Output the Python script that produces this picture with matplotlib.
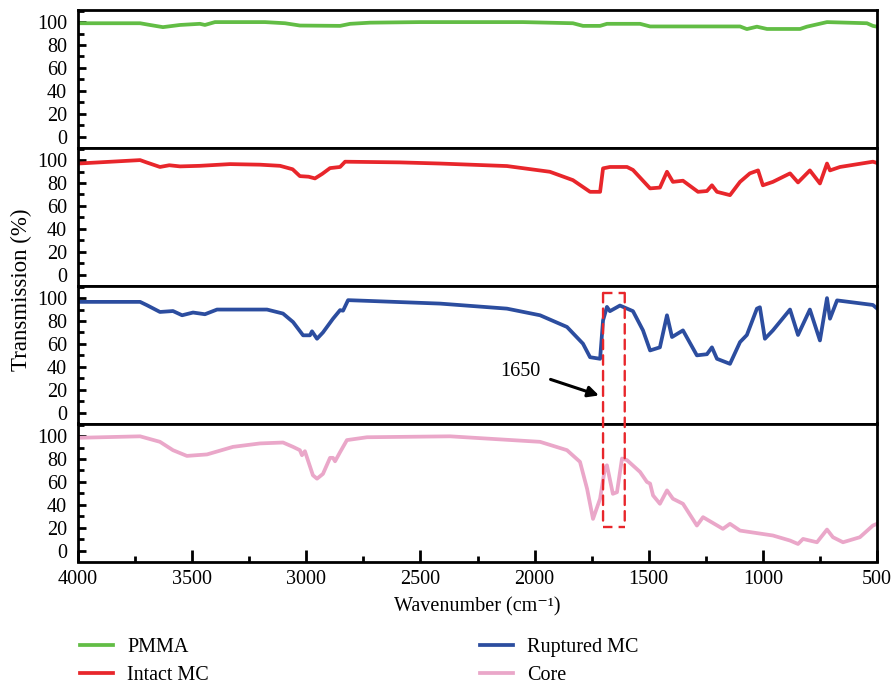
import matplotlib
matplotlib.use("Agg")
import matplotlib.pyplot as plt
from matplotlib.patches import ConnectionPatch
from matplotlib.ticker import MultipleLocator

plt.rcParams['font.family'] = ['Liberation Serif', 'DejaVu Serif']

# ---------------- data ----------------
pmma_wn = [4000, 3728, 3685, 3628, 3553, 3466, 3444, 3400, 3181, 3093, 3028, 2852, 2808, 2721, 2502,
           2051, 1832, 1788, 1713, 1683, 1538, 1494, 1100, 1070, 1026, 982, 837, 807, 719, 544, 518, 500]
pmma_t = [99, 99, 97.5, 95.6, 97.5, 98.5, 97.5, 100, 100, 99, 97, 96.7, 98.5, 99.5, 100,
          100, 99, 96.7, 96.7, 98.5, 98.5, 96.2, 96.2, 93.9, 96, 94, 94, 96, 100, 99, 96.7, 96]

intact_wn = [4000, 3728, 3700, 3641, 3600, 3553, 3466, 3334, 3203, 3115, 3060, 3028, 2990, 2962, 2930,
             2896, 2852, 2830, 2590, 2414, 2121, 1933, 1832, 1757, 1713, 1700, 1670, 1595, 1569, 1494,
             1451, 1420, 1394, 1350, 1284, 1245, 1223, 1201, 1144, 1100, 1057, 1021, 1000, 956, 881,
             846, 794, 750, 719, 706, 662, 518, 500]
intact_t = [97, 100, 98, 94, 95.5, 94.5, 95, 96.5, 96, 95, 92, 86, 85.5, 84, 88,
            93, 94, 98.6, 98, 97, 94.8, 89.8, 82.5, 72.3, 72.3, 92.8, 94, 94, 91.4, 75.3,
            76, 89.8, 81, 82, 72.3, 73, 78, 72.3, 69.4, 81, 88.4, 91, 78, 81, 88.4,
            80.5, 91, 79.6, 97, 91, 94, 98.6, 97.5]

ruptured_wn = [4000, 3728, 3698, 3641, 3584, 3544, 3496, 3444, 3391, 3172, 3102, 3058, 3014, 2984,
               2975, 2953, 2927, 2883, 2852, 2839, 2817, 2734, 2414, 2121, 1976, 1858, 1788, 1757,
               1713, 1700, 1683, 1670, 1626, 1569, 1525, 1494, 1451, 1420, 1398, 1350, 1289, 1245,
               1223, 1201, 1144, 1100, 1070, 1026, 1013, 991, 956, 881, 846, 794, 750, 719, 706,
               675, 518, 500]
ruptured_t = [96.7, 96.7, 93.8, 87.9, 88.7, 85, 87.4, 85.9, 90, 90, 86.5, 79.1, 67.5, 67.5,
              71, 64.5, 70, 82, 89.5, 89, 98.2, 97.6, 95.2, 90.8, 85, 74.8, 60.2, 48.4,
              47, 80.6, 92.3, 88.6, 93.5, 88.6, 71.8, 54.3, 57, 85, 66, 71.8, 50, 51,
              57, 47, 42.6, 61.6, 67.8, 90.8, 92, 64.5, 71.8, 90, 67.8, 90, 63, 100, 82,
              98, 94, 91]

core_wn = [4000, 3728, 3641, 3584, 3523, 3435, 3321, 3203, 3102, 3058, 3028, 3019, 3006, 2971,
           2953, 2927, 2896, 2883, 2874, 2852, 2822, 2734, 2370, 1976, 1858, 1801, 1770, 1744,
           1713, 1692, 1683, 1657, 1639, 1617, 1595, 1538, 1508, 1494, 1481, 1451, 1420, 1394,
           1350, 1289, 1262, 1175, 1144, 1100, 956, 881, 846, 824, 763, 719, 693, 649, 575,
           518, 500]
core_t = [98.5, 99.8, 95, 87.7, 82.7, 84, 90.6, 93.6, 94.4, 90.6, 87.7, 83.3, 86.8, 65.8,
          62.8, 67, 81, 81, 78, 86, 96.5, 99, 99.8, 95, 87.7, 77.5, 54, 27.7,
          45.3, 71.6, 74.5, 49.6, 51, 80.4, 79, 68.7, 60, 58.5, 48.2, 40.9, 52.6, 45.3,
          40.9, 21.9, 29.2, 19, 23.4, 17.5, 13.2, 8.8, 5.8, 10.2, 7.3, 18.4, 11.7, 7.3, 11.7,
          21.9, 23.4]

series_names = ["PMMA", "Intact MC", "Ruptured MC", "Core"]
series_wn = [pmma_wn, intact_wn, ruptured_wn, core_wn]
series_t = [pmma_t, intact_t, ruptured_t, core_t]
colors = ["#62bd45", "#e8262b", "#2c4d9f", "#eaa7c9"]

y_ticks = [0, 20, 40, 60, 80, 100]
x_ticks = [4000, 3500, 3000, 2500, 2000, 1500, 1000, 500]

# ---------------- figure ----------------
W, H = 894, 689
fig = plt.figure(figsize=(W / 100, H / 100), dpi=100)
left, right = 78 / W, 877 / W
top_px, bot_px = 9.5, 561.5
h = (bot_px - top_px) / 4
axes = []
lines = []
for i in range(4):
    y0 = 1 - (top_px + (i + 1) * h) / H
    ax = fig.add_axes([left, y0, right - left, h / H])
    ln, = ax.plot(series_wn[i], series_t[i], color=colors[i], lw=2.7, label=series_names[i],
                  solid_joinstyle='round')
    lines.append(ln)
    ax.set_xlim(4000, 500)
    ax.set_ylim(-9.5, 111)
    ax.set_yticks(y_ticks)
    ax.yaxis.set_minor_locator(MultipleLocator(10))
    ax.tick_params(axis='y', which='major', direction='in', length=6, width=2,
                   labelsize=14.5, pad=8)
    ax.tick_params(axis='y', which='minor', direction='in', length=4, width=2)
    for sp in ax.spines.values():
        sp.set_linewidth(2)
    if i < 3:
        ax.tick_params(axis='x', which='both', bottom=False, labelbottom=False)
    else:
        ax.set_xticks(x_ticks)
        ax.xaxis.set_minor_locator(MultipleLocator(250))
        ax.tick_params(axis='x', which='major', direction='in', length=9, width=2,
                       labelsize=14.5, pad=6)
        ax.tick_params(axis='x', which='minor', direction='in', length=4, width=2)
        ax.set_xlabel("Wavenumber (cm\u207b\u00b9)", fontsize=14.5, labelpad=6)
    axes.append(ax)

fig.text(21 / W, 1 - 290 / H, "Transmission (%)", rotation=90, fontsize=16.5,
         ha='center', va='center')

# dashed highlight box spanning Ruptured MC and Core panels
ax3, ax4 = axes[2], axes[3]
box_l, box_r, box_top, box_bot = 1700, 1605, 104.5, 21
dash = dict(color="#e8262b", lw=1.7, linestyle=(0, (4, 2.6)))
for xv in (box_l, box_r):
    cp = ConnectionPatch(xyA=(xv, box_top), coordsA=ax3.transData,
                         xyB=(xv, box_bot), coordsB=ax4.transData, **dash)
    fig.add_artist(cp)
ax3.plot([box_l, box_r], [box_top, box_top], clip_on=False, **dash)
ax4.plot([box_l, box_r], [box_bot, box_bot], clip_on=False, **dash)

ax3.text(2064, 36, "1650", fontsize=14.5, ha='center', va='center')
ax3.annotate("", xy=(1718, 15), xytext=(1930, 29),
             arrowprops=dict(arrowstyle='-|>', color='black', lw=2.2,
                             shrinkA=0, shrinkB=0, mutation_scale=16))

leg_kw = dict(loc='upper left', frameon=False, fontsize=14.5, handlelength=1.65,
              handletextpad=0.7, labelspacing=0.42, borderpad=0, borderaxespad=0)
leg1 = fig.legend(handles=lines[:2], labels=series_names[:2],
                  bbox_to_anchor=(80 / W, 1 - 638 / H), **leg_kw)
leg2 = fig.legend(handles=lines[2:], labels=series_names[2:],
                  bbox_to_anchor=(480 / W, 1 - 638 / H), **leg_kw)

fig.savefig("out.png", dpi=100)
